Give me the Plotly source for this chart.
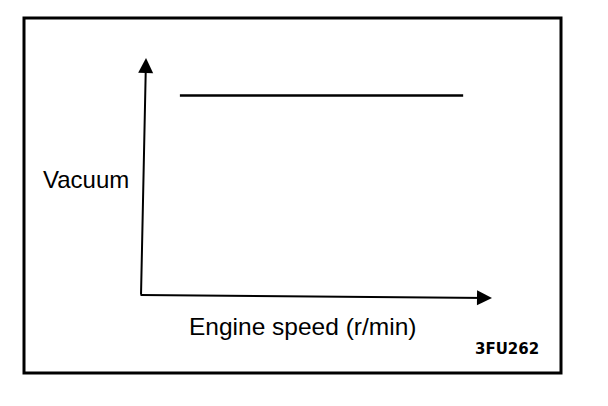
import plotly.graph_objects as go

# Data (relative units, no ticks on the original)
engine_speed = [0.106, 0.920]
vacuum = [0.846, 0.846]

x_title = "Engine speed (r/min)"
y_title = "Vacuum"
fig_code = "3FU262"

W, H = 608, 406
L, R, T, B = 143, 117, 59, 110
PW, PH = W - L - R, H - T - B


def fx(px):
    return (px - L) / PW


def fy(py):
    return (H - B - py) / PH


fig = go.Figure()
fig.add_trace(go.Scatter(
    x=engine_speed, y=vacuum, mode="lines",
    line=dict(color="black", width=2.5), hoverinfo="skip", showlegend=False,
))

font = dict(family="Liberation Sans, Arial, sans-serif", color="black")


def arrow(tail, tip):
    return dict(x=fx(tip[0]), y=fy(tip[1]), xref="paper", yref="paper",
                ax=tail[0] - tip[0], ay=tail[1] - tip[1], axref="pixel", ayref="pixel",
                showarrow=True, arrowhead=2, arrowsize=1.5, arrowwidth=2,
                arrowcolor="black", text="")


annotations = [
    arrow((141, 296), (146, 58)),
    arrow((139, 295), (492, 298)),
    dict(x=fx(85.5), y=fy(179), xref="paper", yref="paper", text=y_title, showarrow=False,
         font=dict(size=24, **font), xanchor="center", yanchor="middle"),
    dict(x=fx(302.5), y=fy(326), xref="paper", yref="paper", text=x_title, showarrow=False,
         font=dict(size=24.5, **font), xanchor="center", yanchor="middle"),
    dict(x=fx(506.5), y=fy(349), xref="paper", yref="paper", text="<b>" + fig_code + "</b>",
         showarrow=False, font=dict(size=15, family="DejaVu Sans, sans-serif", color="black"),
         xanchor="center", yanchor="middle"),
]

shapes = [
    dict(type="rect", xref="paper", yref="paper", x0=fx(24), x1=fx(561), y0=fy(373), y1=fy(18),
         line=dict(color="black", width=3), fillcolor="rgba(0,0,0,0)", layer="above"),
]

fig.update_layout(
    width=W, height=H,
    margin=dict(l=L, r=R, t=T, b=B),
    paper_bgcolor="white", plot_bgcolor="white",
    xaxis=dict(range=[0, 1], visible=False, fixedrange=True),
    yaxis=dict(range=[0, 1], visible=False, fixedrange=True),
    annotations=annotations, shapes=shapes,
    showlegend=False,
)

fig.write_html(
    "out.html",
    config={"displayModeBar": False},
    post_script="document.body.style.margin='0';document.body.style.padding='0';document.body.style.overflow='hidden';",
)
